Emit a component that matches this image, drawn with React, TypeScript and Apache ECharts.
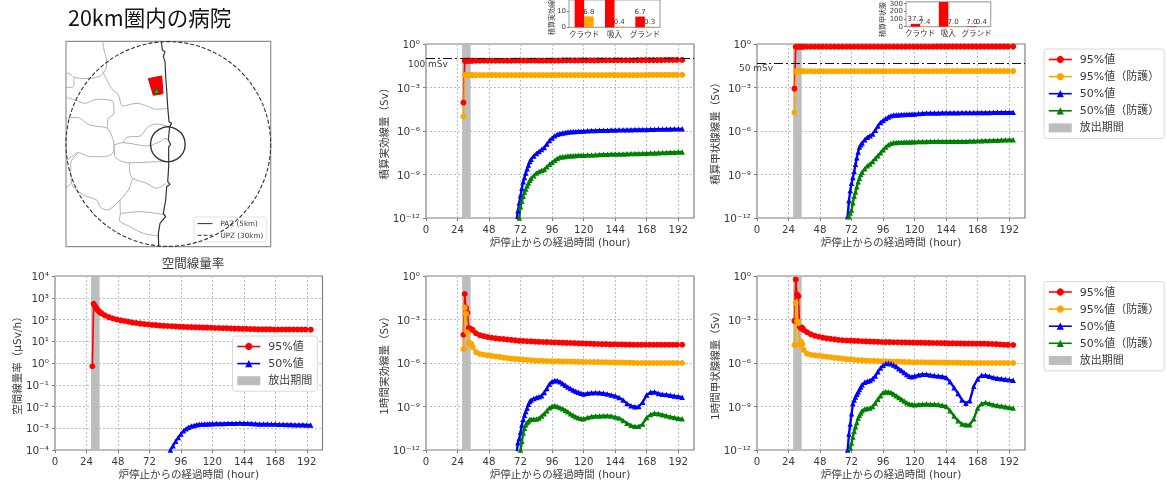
import React, { useEffect, useRef } from "react";
import * as echarts from "echarts";

// ---- hours shared by the series ----
const fullHours = [28.5,29.5,30.5,31.5,32.5,33.5,34.5,35.5,38,41,44,47,50,53,56,59,62,65,68,71,74,77,80,83,86,89,92,95,98,101,104,107,110,113,116,119,122,125,128,131,134,137,140,143,146,149,152,155,158,161,164,167,170,173,176,179,182,185,188,191,195];
const lateHours = [69,70,71,72,73,74,75,76,77,78,79,80,82,84,86,88,90,92,94,96,98,100,102,104,106,108,110,112,114,116,118,120,123,126,129,132,135,138,141,144,147,150,153,156,159,162,165,168,171,174,177,180,183,186,189,192,195];
const rateBlueHours = [88,90,92,94,96,98,100,102,104,106,108,110,112,114,116,118,120,123,126,129,132,135,138,141,144,147,150,153,156,159,162,165,168,171,174,177,180,183,186,189,192,195];

// ---- values, as log10 of the axis unit ----
const cumEffRed = [-4.04,-1.16,-1.15,-1.15,-1.15,-1.15,-1.15,-1.15,-1.15,-1.15,-1.15,-1.15,-1.15,-1.15,-1.15,-1.15,-1.15,-1.15,-1.14,-1.14,-1.14,-1.14,-1.14,-1.14,-1.14,-1.14,-1.14,-1.14,-1.14,-1.14,-1.13,-1.13,-1.13,-1.13,-1.13,-1.13,-1.13,-1.13,-1.13,-1.13,-1.12,-1.12,-1.12,-1.12,-1.12,-1.12,-1.12,-1.12,-1.12,-1.11,-1.11,-1.11,-1.11,-1.11,-1.11,-1.11,-1.1,-1.1,-1.1,-1.1,-1.1];
const cumEffOrange = [-5.0,-2.14,-2.14,-2.14,-2.14,-2.14,-2.14,-2.14,-2.14,-2.14,-2.14,-2.14,-2.14,-2.14,-2.14,-2.14,-2.14,-2.14,-2.14,-2.14,-2.14,-2.14,-2.14,-2.14,-2.14,-2.14,-2.14,-2.14,-2.14,-2.14,-2.14,-2.14,-2.14,-2.14,-2.14,-2.14,-2.14,-2.14,-2.14,-2.14,-2.14,-2.14,-2.14,-2.14,-2.14,-2.14,-2.14,-2.14,-2.14,-2.14,-2.14,-2.14,-2.13,-2.13,-2.13,-2.13,-2.13,-2.13,-2.13,-2.13,-2.13];
const cumEffBlue = [-12.1,-11.5,-10.95,-10.45,-9.95,-9.5,-9.2,-8.9,-8.6,-8.35,-8.1,-7.95,-7.72,-7.55,-7.42,-7.28,-7.13,-6.9,-6.65,-6.48,-6.33,-6.23,-6.17,-6.13,-6.1,-6.07,-6.05,-6.04,-6.03,-6.02,-6.01,-6.0,-5.98,-5.97,-5.96,-5.95,-5.94,-5.94,-5.93,-5.93,-5.92,-5.92,-5.91,-5.91,-5.9,-5.9,-5.89,-5.89,-5.88,-5.88,-5.87,-5.87,-5.86,-5.86,-5.85,-5.85,-5.85];
const cumEffGreen = [-13,-12.6,-12,-11.2,-10.85,-10.5,-10.2,-10,-9.78,-9.58,-9.4,-9.27,-9.08,-8.9,-8.8,-8.72,-8.65,-8.47,-8.3,-8.15,-8.02,-7.9,-7.8,-7.77,-7.75,-7.72,-7.7,-7.7,-7.69,-7.68,-7.68,-7.67,-7.66,-7.65,-7.64,-7.62,-7.6,-7.6,-7.59,-7.59,-7.58,-7.58,-7.57,-7.56,-7.55,-7.55,-7.54,-7.53,-7.52,-7.51,-7.5,-7.49,-7.48,-7.47,-7.46,-7.45,-7.45];

const cumThyRed = [-3.08,-0.19,-0.19,-0.19,-0.19,-0.19,-0.19,-0.19,-0.19,-0.19,-0.19,-0.19,-0.19,-0.19,-0.19,-0.19,-0.19,-0.19,-0.19,-0.19,-0.19,-0.19,-0.19,-0.19,-0.19,-0.19,-0.19,-0.19,-0.19,-0.19,-0.19,-0.19,-0.19,-0.19,-0.19,-0.19,-0.19,-0.19,-0.19,-0.19,-0.19,-0.18,-0.18,-0.18,-0.18,-0.18,-0.18,-0.18,-0.18,-0.18,-0.18,-0.18,-0.18,-0.18,-0.18,-0.18,-0.18,-0.18,-0.18,-0.18,-0.18];
const cumThyOrange = [-4.73,-1.88,-1.88,-1.88,-1.88,-1.88,-1.88,-1.88,-1.88,-1.88,-1.88,-1.88,-1.88,-1.88,-1.88,-1.88,-1.88,-1.88,-1.88,-1.88,-1.88,-1.88,-1.88,-1.88,-1.88,-1.88,-1.88,-1.88,-1.88,-1.88,-1.88,-1.88,-1.88,-1.88,-1.88,-1.88,-1.88,-1.88,-1.88,-1.88,-1.88,-1.88,-1.87,-1.87,-1.87,-1.87,-1.87,-1.87,-1.87,-1.87,-1.87,-1.87,-1.87,-1.87,-1.87,-1.87,-1.87,-1.87,-1.87,-1.87,-1.87];
const cumThyBlue = [-11.9,-10.8,-10.1,-9.6,-9.2,-8.8,-8.3,-7.85,-7.45,-7.1,-6.95,-6.82,-6.6,-6.43,-6.32,-6.2,-5.95,-5.65,-5.42,-5.27,-5.13,-5.03,-4.95,-4.9,-4.89,-4.88,-4.87,-4.86,-4.85,-4.84,-4.83,-4.82,-4.8,-4.78,-4.76,-4.75,-4.75,-4.75,-4.74,-4.74,-4.74,-4.74,-4.74,-4.73,-4.73,-4.73,-4.73,-4.72,-4.72,-4.72,-4.72,-4.71,-4.71,-4.71,-4.7,-4.7,-4.7];
const cumThyGreen = [-12.8,-11.9,-11.65,-11.45,-10.95,-10.5,-10.2,-9.85,-9.5,-9.25,-9,-8.85,-8.6,-8.4,-8.27,-8.1,-7.9,-7.7,-7.5,-7.3,-7.1,-6.95,-6.85,-6.8,-6.79,-6.78,-6.77,-6.76,-6.75,-6.75,-6.74,-6.74,-6.73,-6.72,-6.72,-6.71,-6.7,-6.7,-6.7,-6.7,-6.7,-6.7,-6.7,-6.7,-6.7,-6.69,-6.69,-6.68,-6.67,-6.66,-6.65,-6.64,-6.63,-6.62,-6.61,-6.6,-6.6];

const rateRed = [-0.15,2.72,2.62,2.52,2.44,2.37,2.32,2.28,2.19,2.11,2.05,2.0,1.96,1.93,1.9,1.86,1.84,1.81,1.79,1.77,1.75,1.74,1.72,1.71,1.7,1.69,1.68,1.67,1.66,1.65,1.65,1.64,1.64,1.63,1.63,1.62,1.61,1.61,1.6,1.6,1.59,1.58,1.58,1.57,1.57,1.56,1.56,1.55,1.55,1.55,1.55,1.54,1.54,1.54,1.54,1.54,1.54,1.54,1.54,1.54,1.53];
const rateBlue = [-4.0,-3.8,-3.6,-3.42,-3.27,-3.12,-3.02,-2.95,-2.9,-2.87,-2.84,-2.82,-2.81,-2.8,-2.8,-2.79,-2.79,-2.78,-2.78,-2.78,-2.77,-2.77,-2.77,-2.76,-2.77,-2.77,-2.78,-2.79,-2.8,-2.8,-2.8,-2.81,-2.81,-2.82,-2.82,-2.83,-2.83,-2.84,-2.84,-2.84,-2.85,-2.85];

const hourEffRed = [-4.05,-1.24,-2.2,-2.54,-3.6,-3.62,-3.68,-3.72,-3.95,-4.08,-4.15,-4.21,-4.26,-4.3,-4.33,-4.35,-4.38,-4.41,-4.44,-4.47,-4.48,-4.5,-4.51,-4.53,-4.54,-4.55,-4.56,-4.57,-4.58,-4.59,-4.6,-4.61,-4.62,-4.63,-4.64,-4.65,-4.66,-4.67,-4.68,-4.69,-4.7,-4.7,-4.71,-4.71,-4.72,-4.72,-4.73,-4.73,-4.74,-4.74,-4.74,-4.74,-4.74,-4.74,-4.74,-4.74,-4.74,-4.74,-4.74,-4.74,-4.74];
const hourEffOrange = [-5.04,-2.18,-2.6,-3.9,-4.65,-4.62,-4.7,-4.9,-5.25,-5.38,-5.43,-5.48,-5.51,-5.55,-5.58,-5.63,-5.66,-5.7,-5.72,-5.75,-5.77,-5.79,-5.81,-5.84,-5.85,-5.86,-5.87,-5.88,-5.89,-5.89,-5.9,-5.9,-5.9,-5.91,-5.92,-5.92,-5.93,-5.93,-5.94,-5.94,-5.95,-5.95,-5.96,-5.96,-5.97,-5.97,-5.98,-5.98,-5.99,-6,-6,-6,-6,-6,-6,-6,-6,-6,-6,-6,-6];
const hourEffBlue = [-12.2,-11.5,-11.2,-10.75,-10.3,-9.9,-9.6,-9.35,-9.1,-8.85,-8.65,-8.55,-8.45,-8.38,-8.33,-8.25,-8.03,-7.75,-7.45,-7.27,-7.2,-7.22,-7.3,-7.42,-7.54,-7.65,-7.76,-7.86,-7.95,-8.02,-8.08,-8.13,-8.08,-8.05,-8.04,-8.05,-8.08,-8.13,-8.2,-8.27,-8.38,-8.55,-8.8,-8.95,-9.02,-9.0,-8.7,-8.2,-8.02,-8.0,-8.1,-8.15,-8.18,-8.22,-8.27,-8.31,-8.36];
const hourEffGreen = [-13.2,-12.9,-12.5,-12,-11.4,-10.83,-10.5,-10.25,-10.1,-10,-9.9,-9.88,-9.87,-9.87,-9.8,-9.65,-9.5,-9.3,-9.08,-8.98,-8.95,-9.0,-9.07,-9.15,-9.25,-9.37,-9.5,-9.6,-9.7,-9.78,-9.82,-9.85,-9.75,-9.69,-9.66,-9.65,-9.64,-9.64,-9.66,-9.72,-9.8,-9.97,-10.15,-10.3,-10.37,-10.37,-10.2,-9.75,-9.55,-9.46,-9.5,-9.57,-9.63,-9.7,-9.76,-9.81,-9.85];

const hourThyRed = [-3.09,-0.25,-1.28,-1.4,-3.5,-3.62,-3.57,-3.72,-3.87,-4.02,-4.12,-4.19,-4.25,-4.3,-4.33,-4.37,-4.41,-4.43,-4.45,-4.46,-4.47,-4.48,-4.5,-4.51,-4.52,-4.53,-4.54,-4.55,-4.56,-4.56,-4.57,-4.57,-4.58,-4.58,-4.59,-4.59,-4.6,-4.6,-4.61,-4.61,-4.62,-4.62,-4.63,-4.63,-4.64,-4.64,-4.65,-4.65,-4.66,-4.66,-4.66,-4.67,-4.67,-4.67,-4.68,-4.69,-4.7,-4.72,-4.74,-4.75,-4.76];
const hourThyOrange = [-4.76,-1.85,-3.1,-3.25,-4.76,-4.53,-4.7,-5.1,-5.36,-5.43,-5.47,-5.5,-5.54,-5.57,-5.6,-5.64,-5.67,-5.7,-5.73,-5.75,-5.78,-5.8,-5.82,-5.83,-5.85,-5.86,-5.87,-5.88,-5.89,-5.9,-5.91,-5.91,-5.92,-5.93,-5.94,-5.95,-5.95,-5.95,-5.96,-5.96,-5.96,-5.97,-5.97,-5.97,-5.98,-5.98,-5.98,-5.99,-5.99,-5.99,-6,-6,-6,-6,-6,-6,-6,-6,-6,-6,-6];
const hourThyBlue = [-12,-10.9,-10.2,-9.5,-8.8,-8.55,-8.35,-8.15,-8,-7.82,-7.65,-7.5,-7.33,-7.25,-7.2,-7.08,-6.9,-6.6,-6.35,-6.15,-6.03,-6.02,-6.05,-6.13,-6.24,-6.4,-6.52,-6.65,-6.8,-6.92,-6.95,-6.9,-6.82,-6.77,-6.78,-6.82,-6.87,-6.9,-6.93,-7.0,-7.3,-7.7,-8.1,-8.55,-8.77,-8.6,-7.6,-7.1,-6.85,-6.85,-6.92,-7.0,-7.05,-7.08,-7.12,-7.16,-7.19];
const hourThyGreen = [-12.8,-12.2,-11.85,-11.52,-11.1,-10.7,-10.4,-10.1,-9.8,-9.6,-9.45,-9.3,-9.18,-9.14,-9.11,-9,-8.75,-8.5,-8.25,-8.03,-7.98,-8,-8.04,-8.13,-8.25,-8.38,-8.5,-8.62,-8.74,-8.82,-8.86,-8.88,-8.86,-8.84,-8.83,-8.84,-8.84,-8.87,-8.92,-8.98,-9.3,-9.65,-9.98,-10.2,-10.26,-10.26,-9.85,-9.1,-8.8,-8.73,-8.8,-8.88,-8.93,-8.97,-9.02,-9.07,-9.11];

// ---- inset bars ----
const barCategories = ["クラウド", "吸入", "グランド"];
const insetEffRed = [32, 62, 6.7];
const insetEffOrange = [6.8, 0.4, 0.3];
const insetThyRed = [37.2, 700, 7.0];
const insetThyOrange = [7.4, 7.0, 0.4];

// ---- map, in the map's own drawing units ----
const coastline = [[484,124],[487,150],[495,155],[490,170],[495,185],[497,230],[500,270],[503,320],[507,365],[515,370],[509,380],[505,420],[512,434],[506,440],[506,500],[503,545],[510,553],[500,560],[497,600],[490,640],[497,650],[480,670],[475,700],[476,740]];
const boundaries = [
  [[308,124],[312,150],[320,185],[318,205],[300,228],[260,236],[222,232],[205,220],[198,220]],
  [[222,232],[222,258],[198,263]],
  [[308,215],[335,265],[355,285],[368,318],[410,310],[440,318],[470,328],[503,325]],
  [[198,292],[225,300],[255,310],[290,298],[338,304],[342,340],[325,355],[322,385]],
  [[198,355],[230,352],[270,375],[322,385],[336,410],[342,435],[338,460],[310,470],[270,470],[235,458],[205,478],[198,485]],
  [[342,435],[370,428],[440,438],[480,425],[495,415],[506,420]],
  [[370,428],[380,412],[420,408],[445,380],[470,372],[507,380]],
  [[342,435],[345,470],[385,488],[430,487],[475,485],[505,485]],
  [[388,488],[390,520],[398,535],[440,550],[470,565],[497,550]],
  [[398,535],[385,570],[360,600],[320,630],[300,620],[290,600],[250,585],[215,550],[212,490],[235,458]],
  [[212,550],[198,565]],
  [[360,600],[362,640],[420,635],[470,640],[495,645]],
  [[362,640],[358,660],[390,680],[430,700],[475,708]],
];
const hospitalArea = [[445,236],[485,228],[489,281],[460,286]];
const hospitalMark = [[470,272]];
const pazCircle = [[503.5,433,52]];
const upzCircle = [[505,432,307]];

const releaseWindow = [27.5, 34];
const hourTicks = [0,24,48,72,96,120,144,168,192];

const FONT = "'DejaVu Sans','Noto Sans CJK JP',sans-serif";
const INK = "#3a3a3a";
const SPINE = "#808080";
const RED = "#ff0000", ORANGE = "#ffa500", BLUE = "#0000ff", GREEN = "#008000", BAND = "#bdbdbd";
const N95 = "95%値", N95P = "95%値（防護）", N50 = "50%値", N50P = "50%値（防護）", NREL = "放出期間";

const pairs = (hours: number[], logs: number[]) => hours.map((h, i) => [h, Math.pow(10, logs[i])]);
const superDigits: Record<string,string> = { "-":"⁻","0":"⁰","1":"¹","2":"²","3":"³","4":"⁴","5":"⁵","6":"⁶","7":"⁷","8":"⁸","9":"⁹" };
const logLabel = (v: number) => "10" + String(Math.round(Math.log10(v))).split("").map((c) => superDigits[c]).join("");

function lineSeries(name: string, idx: number, color: string, symbol: string, size: number, data: number[][]) {
  return { type: "line", name, xAxisIndex: idx, yAxisIndex: idx, data, symbol, symbolSize: size, showSymbol: true, showAllSymbol: true,
    lineStyle: { color, width: symbol === "triangle" ? 2.4 : 1.6 }, itemStyle: { color }, z: 3, silent: true };
}
function bandSeries(idx: number, limit?: { value: number; text: string }) {
  return { type: "line", name: NREL, xAxisIndex: idx, yAxisIndex: idx, data: [], symbol: "none", z: 1, silent: true,
    itemStyle: { color: BAND }, lineStyle: { color: BAND },
    markArea: { silent: true, itemStyle: { color: BAND, opacity: 1 }, data: [[{ xAxis: releaseWindow[0] }, { xAxis: releaseWindow[1] }]] },
    ...(limit ? { markLine: { silent: true, symbol: "none", lineStyle: { color: "#111", type: [9,3,2,3], width: 1.2 },
      label: { show: true, position: "insideStartBottom", formatter: limit.text, color: INK, fontSize: 9, fontFamily: FONT, distance: 1, offset: [-19, 0] },
      data: [{ yAxis: limit.value }] } } : {}) };
}
function timeX(idx: number) {
  return { type: "value", gridIndex: idx, min: 0, max: 204, interval: 24, name: "炉停止からの経過時間 (hour)", nameLocation: "middle", nameGap: 19,
    nameTextStyle: { fontSize: 10.5, color: INK, fontFamily: FONT },
    axisLine: { show: false }, axisTick: { show: true, length: 3, customValues: hourTicks, lineStyle: { color: SPINE } },
    axisLabel: { fontSize: 10.2, color: INK, fontFamily: FONT, margin: 6, showMaxLabel: false },
    splitLine: { show: true, lineStyle: { color: "#bcbcbc", type: [2,2], width: 1 } } };
}
function logY(idx: number, name: string, min: number, max: number, interval: number) {
  return { type: "log", logBase: 10, gridIndex: idx, min, max, interval, name, nameLocation: "middle", nameGap: 31,
    nameTextStyle: { fontSize: 10.5, color: INK, fontFamily: FONT },
    axisLine: { show: false }, axisTick: { show: true, length: 3, lineStyle: { color: SPINE } },
    minorTick: { show: false }, minorSplitLine: { show: false },
    axisLabel: { fontSize: 10.5, color: INK, fontFamily: FONT, margin: 6, formatter: logLabel },
    splitLine: { show: true, lineStyle: { color: "#bcbcbc", type: [2,2], width: 1 } } };
}
function plotGrid(left: number, top: number, width: number, height: number, borderColor = SPINE) {
  return { left, top, width, height, show: true, borderColor, borderWidth: 1.2, backgroundColor: "#fff", containLabel: false };
}
function insetBars(idx: number, red: number[], orange: number[], max: number) {
  const toData = (vals: number[]) => vals.map((v) => ({ value: v, label: { show: v < max } }));
  const label = { position: "top", fontSize: 7, color: INK, fontFamily: FONT, distance: 1, formatter: (p: any) => Number(p.value).toFixed(1) };
  return [
    { type: "bar", xAxisIndex: idx, yAxisIndex: idx, data: toData(red), barWidth: 9.5, barGap: "0%", itemStyle: { color: RED }, label, silent: true, clip: true },
    { type: "bar", xAxisIndex: idx, yAxisIndex: idx, data: toData(orange), barWidth: 9.5, barGap: "0%", itemStyle: { color: ORANGE }, label, silent: true, clip: true },
  ];
}
function insetAxes(idx: number, max: number, ticks: number[]) {
  return {
    x: { type: "category", gridIndex: idx, data: barCategories, axisLine: { show: false }, axisTick: { show: false },
      axisLabel: { fontSize: 7.6, color: INK, fontFamily: FONT, margin: 3, interval: 0 } },
    y: { type: "value", gridIndex: idx, min: 0, max, axisLine: { show: false }, splitLine: { show: false },
      axisTick: { show: true, length: 2, customValues: ticks, lineStyle: { color: SPINE } },
      axisLabel: { fontSize: 7, color: INK, fontFamily: FONT, margin: 3, customValues: ticks } },
  };
}
function legendBox(left: number, top: number, names: string[], extra: any = {}) {
  return { show: true, orient: "vertical", left, top, padding: [5, 5, 5, 4], itemWidth: 23, itemHeight: 9, itemGap: 6.1,
    backgroundColor: "#fff", borderColor: "#d8d8d8", borderWidth: 1, borderRadius: 3, selectedMode: false,
    lineStyle: { width: 1.6 },
    textStyle: { fontSize: 11, color: INK, fontFamily: FONT, padding: [0, 0, 0, 3] },
    data: names.map((n) => (n === NREL ? { name: n, icon: "rect", itemStyle: { color: BAND } } : { name: n })), ...extra };
}

export default function App() {
  const ref = useRef<HTMLDivElement>(null);
  useEffect(() => {
    document.body.style.margin = "0";
    const chart = echarts.init(ref.current!, undefined, { renderer: "svg" });
    const i1 = insetAxes(5, 17, [0, 10]);
    const i2 = insetAxes(6, 320, [0, 100, 200, 300]);
    const map = 7;
    const circleItem = (color: string, dash: number[] | null, width: number) => (_: any, api: any) => {
      const c = api.coord([api.value(0), api.value(1)]);
      const r = api.size([api.value(2), 0])[0];
      return { type: "circle", shape: { cx: c[0], cy: c[1], r }, style: { fill: "none", stroke: color, lineWidth: width, lineDash: dash || undefined } };
    };
    chart.setOption({
      animation: false,
      textStyle: { fontFamily: FONT },
      title: [
        { text: "20km圏内の病院", left: 63, top: 1, textStyle: { fontSize: 21.5, fontWeight: "normal", color: "#111", fontFamily: "'Noto Sans CJK JP',sans-serif" } },
        { text: "空間線量率", left: 188, top: 252, textAlign: "center", textStyle: { fontSize: 12.5, fontWeight: "normal", color: INK, fontFamily: FONT } },
      ],
      grid: [
        plotGrid(426, 44, 268, 174), plotGrid(757, 44, 268, 174), plotGrid(55, 276, 267.5, 174),
        plotGrid(426, 276, 268, 174), plotGrid(757, 276, 268, 174),
        plotGrid(569, 0, 91, 27.3, "#a8a8a8"), plotGrid(906, 0, 84.7, 26.7, "#a8a8a8"),
        plotGrid(66, 41.3, 204.7, 205.4, "#909090"),
      ],
      xAxis: [timeX(0), timeX(1), timeX(2), timeX(3), timeX(4), i1.x, i2.x,
        { type: "value", gridIndex: map, min: 198, max: 812, show: false, splitLine: { show: false } }],
      yAxis: [
        logY(0, "積算実効線量（Sv）", 1e-12, 1, 3), logY(1, "積算甲状腺線量（Sv）", 1e-12, 1, 3),
        logY(2, "空間線量率（μSv/h）", 1e-4, 1e4, 1),
        logY(3, "1時間実効線量（Sv）", 1e-12, 1, 3), logY(4, "1時間甲状腺線量（Sv）", 1e-12, 1, 3),
        i1.y, i2.y,
        { type: "value", gridIndex: map, min: 124, max: 740, inverse: true, show: false, splitLine: { show: false } },
      ],
      legend: [
        legendBox(1044, 49, [N95, N95P, N50, N50P, NREL]),
        legendBox(1044, 281.5, [N95, N95P, N50, N50P, NREL]),
        legendBox(232.5, 336, [N95, N50, NREL]),
        { show: true, orient: "vertical", left: 194, top: 217, padding: [3, 3, 3, 3], itemWidth: 15, itemHeight: 5, itemGap: 4.5, selectedMode: false,
          backgroundColor: "#fff", borderColor: "#e2e2e2", borderWidth: 1, borderRadius: 2,
          lineStyle: { width: 1 }, itemStyle: { color: "transparent", borderColor: "transparent", borderWidth: 0 },
          textStyle: { fontSize: 7.2, color: INK, fontFamily: FONT, padding: [0,0,0,3] },
          data: ["PAZ (5km)", "UPZ (30km)"] },
      ],
      series: [
        bandSeries(0, { value: 0.1, text: "100 mSv" }),
        lineSeries(N95, 0, RED, "circle", 6, pairs(fullHours, cumEffRed)),
        lineSeries(N95P, 0, ORANGE, "circle", 6, pairs(fullHours, cumEffOrange)),
        lineSeries(N50, 0, BLUE, "triangle", 5.5, pairs(lateHours, cumEffBlue)),
        lineSeries(N50P, 0, GREEN, "triangle", 5.5, pairs(lateHours, cumEffGreen)),

        bandSeries(1, { value: 0.05, text: "50 mSv" }),
        lineSeries(N95, 1, RED, "circle", 6, pairs(fullHours, cumThyRed)),
        lineSeries(N95P, 1, ORANGE, "circle", 6, pairs(fullHours, cumThyOrange)),
        lineSeries(N50, 1, BLUE, "triangle", 5.5, pairs(lateHours, cumThyBlue)),
        lineSeries(N50P, 1, GREEN, "triangle", 5.5, pairs(lateHours, cumThyGreen)),

        bandSeries(2),
        lineSeries(N95, 2, RED, "circle", 6, pairs(fullHours, rateRed)),
        lineSeries(N50, 2, BLUE, "triangle", 5.5, pairs(rateBlueHours, rateBlue)),

        bandSeries(3),
        lineSeries(N95, 3, RED, "circle", 6, pairs(fullHours, hourEffRed)),
        lineSeries(N95P, 3, ORANGE, "circle", 6, pairs(fullHours, hourEffOrange)),
        lineSeries(N50, 3, BLUE, "triangle", 5.5, pairs(lateHours, hourEffBlue)),
        lineSeries(N50P, 3, GREEN, "triangle", 5.5, pairs(lateHours, hourEffGreen)),

        bandSeries(4),
        lineSeries(N95, 4, RED, "circle", 6, pairs(fullHours, hourThyRed)),
        lineSeries(N95P, 4, ORANGE, "circle", 6, pairs(fullHours, hourThyOrange)),
        lineSeries(N50, 4, BLUE, "triangle", 5.5, pairs(lateHours, hourThyBlue)),
        lineSeries(N50P, 4, GREEN, "triangle", 5.5, pairs(lateHours, hourThyGreen)),

        ...insetBars(5, insetEffRed, insetEffOrange, 17),
        ...insetBars(6, insetThyRed, insetThyOrange, 320),

        ...boundaries.map((b) => ({ type: "line", xAxisIndex: map, yAxisIndex: map, data: b, smooth: 0.3, symbol: "none", silent: true,
          lineStyle: { color: "#b0b0b0", width: 1 }, z: 2 })),
        { type: "line", xAxisIndex: map, yAxisIndex: map, data: coastline, symbol: "none", silent: true, lineStyle: { color: "#333", width: 1.2 }, z: 3 },
        { type: "custom", xAxisIndex: map, yAxisIndex: map, data: [hospitalArea.flat()], silent: true, z: 4,
          renderItem: (_: any, api: any) => ({ type: "polygon", shape: { points: hospitalArea.map((p) => api.coord(p)) }, style: { fill: RED, stroke: "#e00000" } }) },
        { type: "scatter", xAxisIndex: map, yAxisIndex: map, data: hospitalMark, symbol: "triangle", symbolSize: 6, silent: true, z: 5,
          itemStyle: { color: "#00e000", borderColor: "#222", borderWidth: 0.8 } },
        { type: "custom", xAxisIndex: map, yAxisIndex: map, data: pazCircle, silent: true, z: 6, clip: false, renderItem: circleItem("#333", null, 1.4) },
        { type: "custom", xAxisIndex: map, yAxisIndex: map, data: upzCircle, silent: true, z: 6, clip: false, renderItem: circleItem("#333", [4, 2], 1.1) },
        { type: "line", name: "PAZ (5km)", xAxisIndex: map, yAxisIndex: map, data: [], symbol: "none", lineStyle: { color: "#333", width: 1.2 }, itemStyle: { color: "#333" } },
        { type: "line", name: "UPZ (30km)", xAxisIndex: map, yAxisIndex: map, data: [], symbol: "none", lineStyle: { color: "#333", width: 1.2, type: [4, 2] }, itemStyle: { color: "#333" } },
      ],
      graphic: [
        { type: "text", x: 552, y: 35, rotation: Math.PI / 2, style: { text: "積算実効線", fontSize: 7, fill: INK, fontFamily: FONT, textAlign: "left", textVerticalAlign: "middle" } },
        { type: "text", x: 883, y: 37, rotation: Math.PI / 2, style: { text: "積算甲状腺", fontSize: 7, fill: INK, fontFamily: FONT, textAlign: "left", textVerticalAlign: "middle" } },
      ],
    });
    return () => chart.dispose();
  }, []);
  return <div ref={ref} style={{ position: "absolute", left: 0, top: 0, width: 1167, height: 485, background: "#fff", filter: "blur(0.35px)" }} />;
}
